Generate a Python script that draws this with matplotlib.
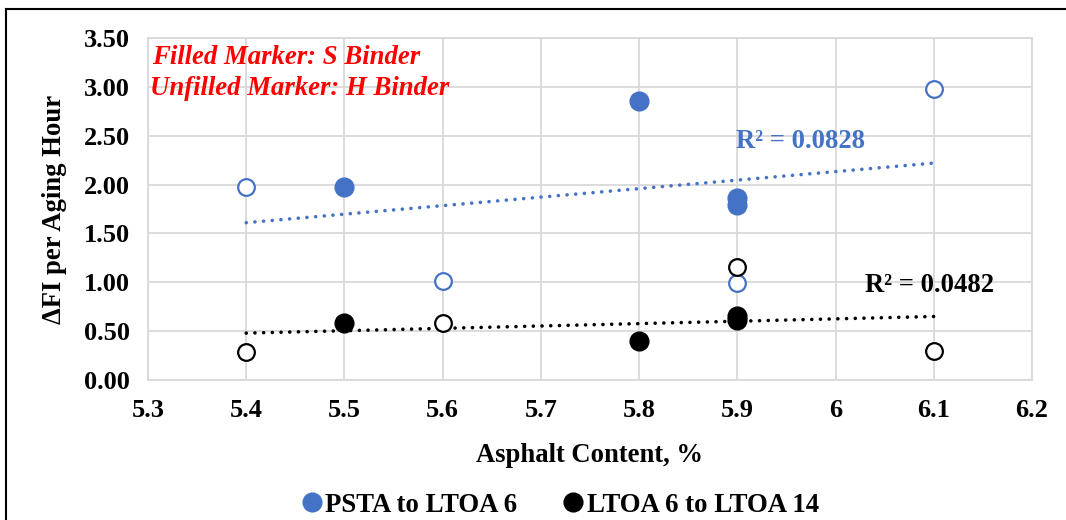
import matplotlib
matplotlib.use("Agg")
import matplotlib.pyplot as plt
from matplotlib.lines import Line2D

# ---- data ----
blue_filled_x = [5.5, 5.8, 5.9, 5.9]
blue_filled_y = [1.98, 2.86, 1.86, 1.79]
blue_hollow_x = [5.4, 5.6, 5.9, 6.1]
blue_hollow_y = [1.98, 1.01, 0.99, 2.98]

black_filled_x = [5.5, 5.8, 5.9, 5.9]
black_filled_y = [0.58, 0.40, 0.65, 0.61]
black_hollow_x = [5.4, 5.6, 5.9, 6.1]
black_hollow_y = [0.29, 0.58, 1.16, 0.30]

trend_x = [5.4, 6.1]
blue_trend_y = [1.61, 2.22]
black_trend_y = [0.48, 0.65]

x_ticks = [5.3, 5.4, 5.5, 5.6, 5.7, 5.8, 5.9, 6.0, 6.1, 6.2]
x_tick_labels = ["5.3", "5.4", "5.5", "5.6", "5.7", "5.8", "5.9", "6", "6.1", "6.2"]
y_ticks = [0.0, 0.5, 1.0, 1.5, 2.0, 2.5, 3.0, 3.5]
y_tick_labels = ["0.00", "0.50", "1.00", "1.50", "2.00", "2.50", "3.00", "3.50"]

series_names = ["PSTA to LTOA 6", "LTOA 6 to LTOA 14"]
r2_labels = ["R² = 0.0828", "R² = 0.0482"]

BLUE = "#4472C4"
BLACK = "#000000"
GRID = "#D9D9D9"

plt.rcParams['font.family'] = ['Liberation Serif', 'DejaVu Serif']
plt.rcParams['font.weight'] = 'bold'

W, H = 1066, 520
fig = plt.figure(figsize=(W / 100, H / 100), dpi=100)
ax = fig.add_axes([148 / W, 1 - 380 / H, (1032 - 148) / W, (380 - 38) / H])

ax.set_xlim(5.3, 6.2)
ax.set_ylim(0, 3.5)
ax.set_xticks(x_ticks)
ax.set_xticklabels(x_tick_labels)
ax.set_yticks(y_ticks)
ax.set_yticklabels(y_tick_labels)
ax.tick_params(axis='both', length=0, labelsize=19)
for lab in ax.get_xticklabels() + ax.get_yticklabels():
    lab.set_fontweight('bold')
ax.tick_params(axis='x', pad=14)
ax.tick_params(axis='y', pad=13)

ax.grid(True, color=GRID, linewidth=1.3, zorder=0)
for s in ax.spines.values():
    s.set_color(GRID)
    s.set_linewidth(1.3)

ms = 13.5
# trendlines
dot = (0, (0.01, 2.4))
ax.plot(trend_x, blue_trend_y, color=BLUE, linewidth=2.6, linestyle=dot,
        dash_capstyle='round', zorder=2)
ax.plot(trend_x, black_trend_y, color=BLACK, linewidth=2.6, linestyle=dot,
        dash_capstyle='round', zorder=2)

# markers
ax.plot(blue_hollow_x, blue_hollow_y, 'o', ms=ms - 1.5, mfc='white', mec=BLUE, mew=1.6, zorder=3)
ax.plot(blue_filled_x, blue_filled_y, 'o', ms=ms, mfc=BLUE, mec=BLUE, mew=1, zorder=4)
ax.plot(black_hollow_x, black_hollow_y, 'o', ms=ms - 1.5, mfc='white', mec=BLACK, mew=1.6, zorder=3)
ax.plot(black_filled_x, black_filled_y, 'o', ms=ms, mfc=BLACK, mec=BLACK, mew=1, zorder=4)

# annotations
ax.text(0.005, 0.944, "Filled Marker: S Binder", transform=ax.transAxes, color='#FF0000',
        fontsize=19.3, fontweight='bold', fontstyle='italic', ha='left', va='center')
ax.text(0.002, 0.851, "Unfilled Marker: H Binder", transform=ax.transAxes, color='#FF0000',
        fontsize=19.3, fontweight='bold', fontstyle='italic', ha='left', va='center')

ax.text(5.964, 2.44, r2_labels[0], color=BLUE, fontsize=19.2, fontweight='bold',
        ha='center', va='center')
ax.text(6.096, 0.97, r2_labels[1], color=BLACK, fontsize=19.2, fontweight='bold',
        ha='center', va='center')

ax.set_xlabel("Asphalt Content, %", fontsize=19.2, fontweight='bold', labelpad=15)
ax.set_ylabel("ΔFI per Aging Hour", fontsize=19.2, fontweight='bold', labelpad=12)

handles = [Line2D([], [], marker='o', linestyle='none', ms=ms, mfc=BLUE, mec=BLUE),
           Line2D([], [], marker='o', linestyle='none', ms=ms, mfc=BLACK, mec=BLACK)]
fig.legend(handles, series_names, loc='center', bbox_to_anchor=(0.524, 1 - 505 / H),
           ncol=2, frameon=False, prop={'size': 19.3, 'weight': 'bold'},
           handletextpad=0.0, columnspacing=1.6, handlelength=1.0)

# outer frame (left and top)
fig.add_artist(Line2D([6 / W, 6 / W], [0, 1 - 9 / H], color='black', linewidth=1.5,
                      transform=fig.transFigure))
fig.add_artist(Line2D([6 / W, 1], [1 - 9 / H, 1 - 9 / H], color='black', linewidth=1.5,
                      transform=fig.transFigure))

fig.savefig("out.png", dpi=100)
